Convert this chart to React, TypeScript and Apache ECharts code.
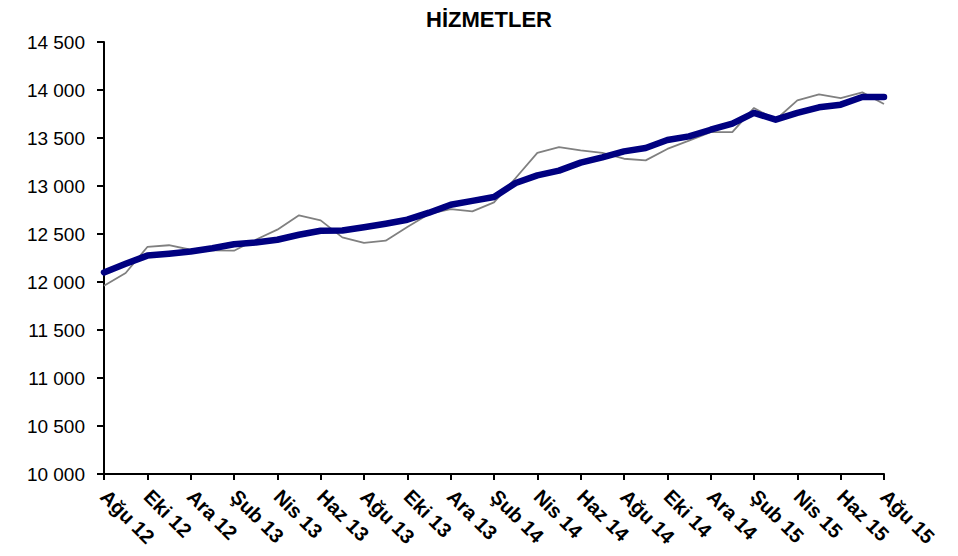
import React, { useEffect, useRef } from "react";
import * as echarts from "echarts";

const categories = [
  "Ağu 12", "Eyl 12", "Eki 12", "Kas 12", "Ara 12", "Oca 13", "Şub 13", "Mar 13", "Nis 13", "May 13",
  "Haz 13", "Tem 13", "Ağu 13", "Eyl 13", "Eki 13", "Kas 13", "Ara 13", "Oca 14", "Şub 14", "Mar 14",
  "Nis 14", "May 14", "Haz 14", "Tem 14", "Ağu 14", "Eyl 14", "Eki 14", "Kas 14", "Ara 14", "Oca 15",
  "Şub 15", "Mar 15", "Nis 15", "May 15", "Haz 15", "Tem 15", "Ağu 15",
];

const actualValues = [
  11960, 12094, 12365, 12383, 12336, 12330, 12326, 12440, 12545, 12695,
  12642, 12465, 12407, 12430, 12573, 12709, 12760, 12736, 12830, 13083,
  13345, 13406, 13370, 13345, 13284, 13267, 13386, 13472, 13561, 13561,
  13813, 13690, 13892, 13954, 13915, 13975, 13854,
];

const trendValues = [
  12100, 12190, 12275, 12295, 12318, 12351, 12393, 12412, 12440, 12492,
  12534, 12536, 12570, 12607, 12649, 12722, 12805, 12845, 12885, 13031,
  13111, 13160, 13243, 13299, 13361, 13396, 13479, 13517, 13586, 13649,
  13761, 13691, 13761, 13820, 13847, 13927, 13927,
];

const title = "HİZMETLER";
const yMin = 10000;
const yMax = 14500;
const yStep = 500;

const FONT = "'Liberation Sans', Arial, sans-serif";

export default function App() {
  const ref = useRef<HTMLDivElement>(null);
  useEffect(() => {
    if (!ref.current) return;
    const chart = echarts.init(ref.current, undefined, { renderer: "svg" });
    chart.setOption({
      animation: false,
      backgroundColor: "#ffffff",
      title: {
        text: title,
        left: 484,
        top: 3,
        textAlign: "center",
        textStyle: { fontFamily: FONT, fontSize: 22, fontWeight: "bold", color: "#000" },
      },
      grid: { left: 104, right: 74, top: 42, bottom: 82, containLabel: false },
      xAxis: {
        type: "category",
        data: categories,
        boundaryGap: false,
        axisLine: { show: true, lineStyle: { color: "#000", width: 2 } },
        axisTick: { show: true, interval: 1, length: 6, lineStyle: { color: "#000", width: 2 } },
        axisLabel: {
          interval: 1,
          rotate: -45,
          margin: 19,
          fontFamily: FONT,
          fontSize: 20,
          fontWeight: "bold",
          color: "#000",
        },
        splitLine: { show: false },
      },
      yAxis: {
        type: "value",
        min: yMin,
        max: yMax,
        interval: yStep,
        axisLine: { show: true, lineStyle: { color: "#000", width: 2 } },
        axisTick: { show: true, length: 7, lineStyle: { color: "#000", width: 2 } },
        axisLabel: {
          margin: 19,
          fontFamily: FONT,
          fontSize: 19,
          color: "#000",
          formatter: (v: number) => {
            const s = String(Math.round(v));
            return s.length > 3 ? s.slice(0, s.length - 3) + " " + s.slice(-3) : s;
          },
        },
        splitLine: { show: false },
      },
      series: [
        {
          type: "line",
          data: actualValues,
          symbol: "none",
          lineStyle: { color: "#808080", width: 1.8 },
          z: 2,
        },
        {
          type: "line",
          data: trendValues,
          symbol: "none",
          lineStyle: { color: "#000080", width: 6.5, cap: "round", join: "round" },
          z: 3,
        },
      ],
    });
    return () => chart.dispose();
  }, []);
  return <div ref={ref} style={{ width: 958, height: 556, position: "absolute", left: 0, top: 0 }} />;
}
